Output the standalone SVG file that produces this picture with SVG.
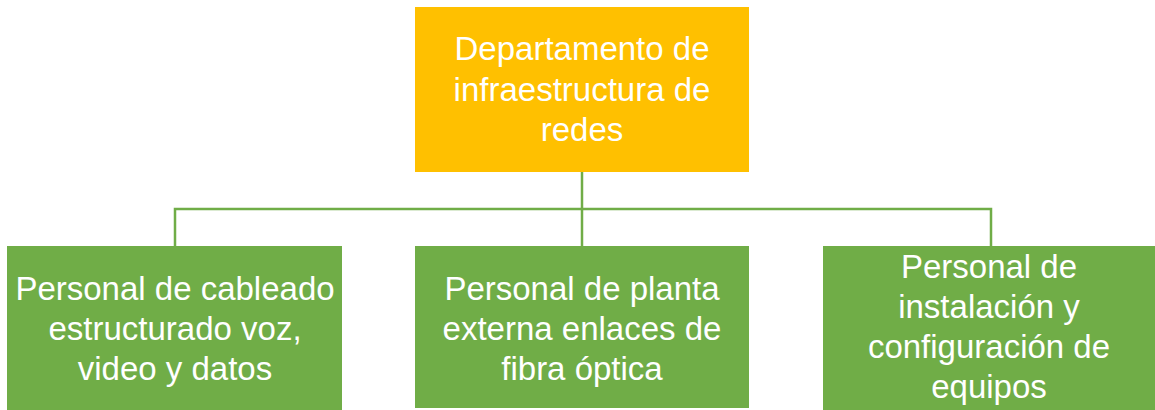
<svg xmlns="http://www.w3.org/2000/svg" width="1155" height="410" viewBox="0 0 1155 410">
<style>
.top{fill:#FFC000;}
.box{fill:#70AD47;}
.t{fill:#FFFFFF;font-family:"Liberation Sans",Arial,sans-serif;font-size:33px;text-anchor:middle;}
.c{stroke:#70AD47;stroke-width:2.5;fill:none;}
</style>
<rect width="1155" height="410" fill="#FFFFFF"/>
<g id="connectors">
<path class="c" d="M582 172 V246"/>
<path class="c" d="M175 246 V209 H991 V246"/>
</g>
<g id="root">
<rect class="top" x="415" y="7" width="334" height="165"/>
<text class="t" x="582" y="60">Departamento de</text>
<text class="t" x="582" y="100.5">infraestructura de</text>
<text class="t" x="582" y="141">redes</text>
</g>
<g id="cableado">
<rect class="box" x="7" y="246" width="335" height="164"/>
<text class="t" x="175" y="300">Personal de cableado</text>
<text class="t" x="175" y="340">estructurado voz,</text>
<text class="t" x="175" y="380">video y datos</text>
</g>
<g id="planta">
<rect class="box" x="415" y="246" width="334" height="162"/>
<text class="t" x="582" y="300">Personal de planta</text>
<text class="t" x="582" y="340">externa enlaces de</text>
<text class="t" x="582" y="380">fibra óptica</text>
</g>
<g id="instalacion">
<rect class="box" x="823" y="246" width="340" height="164"/>
<text class="t" x="989" y="278">Personal de</text>
<text class="t" x="989" y="318">instalación y</text>
<text class="t" x="989" y="358">configuración de</text>
<text class="t" x="989" y="398">equipos</text>
</g>
</svg>
